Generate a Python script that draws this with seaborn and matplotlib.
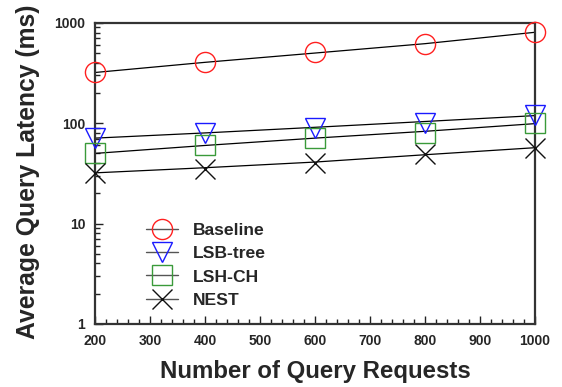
import numpy as np
import pandas as pd
import matplotlib
matplotlib.use('Agg')
import matplotlib.pyplot as plt
from matplotlib.lines import Line2D
from matplotlib.ticker import LogLocator, NullFormatter, MultipleLocator
import seaborn as sns

# measured points
requests = [200, 400, 600, 800, 1000]
baseline = [325, 409, 515, 618, 815]
lsb_tree = [72, 79, 90, 101, 121]
lsh_ch = [50, 60, 71, 80, 101]
nest = [32, 35, 40, 49, 57]

# fitted trend lines (black)
baseline_fit = [320, 404, 500, 620, 805]
lsb_tree_fit = [71, 80, 91, 104, 119]
lsh_ch_fit = [50, 60, 71, 83, 99]
nest_fit = [32, 36, 41, 48.5, 57]

names = ['Baseline', 'LSB-tree', 'LSH-CH', 'NEST']
points = [baseline, lsb_tree, lsh_ch, nest]
fits = [baseline_fit, lsb_tree_fit, lsh_ch_fit, nest_fit]
colors = ['#ff2020', '#1a1aff', '#3a9a3a', '#111111']
markers = ['o', 'v', 's', 'x']

sns.set_style('white')
plt.rcParams['font.family'] = ['Liberation Sans', 'DejaVu Sans']
plt.rcParams['font.weight'] = 'bold'

fig = plt.figure(figsize=(5.62, 3.87), dpi=100)
ax = fig.add_axes([0.169, 0.163, 0.783, 0.778])

for name, pts, fit, c, m in zip(names, points, fits, colors, markers):
    df = pd.DataFrame({'x': requests, 'fit': fit, 'y': pts})
    sns.lineplot(data=df, x='x', y='fit', ax=ax, color='black', lw=0.9,
                 legend=False)
    sns.lineplot(data=df, x='x', y='y', ax=ax, linestyle='', marker=m,
                 markersize=14.5, mfc='none', mec=c, mew=1.0, color=c,
                 legend=False, clip_on=False, zorder=5)

ax.set_yscale('log')
ax.set_xlim(200, 1000)
ax.set_ylim(1, 1000)
ax.xaxis.set_major_locator(MultipleLocator(100))
ax.xaxis.set_minor_locator(MultipleLocator(20))
ax.yaxis.set_minor_locator(LogLocator(base=10, subs=np.arange(2, 10), numticks=10))
ax.yaxis.set_minor_formatter(NullFormatter())
ax.set_yticks([1, 10, 100, 1000])
ax.set_yticklabels(['1', '10', '100', '1000'])

ax.tick_params(which='both', direction='in', top=False, right=False,
               left=True, bottom=True, color='#222222', width=1.0)
ax.tick_params(which='major', length=6, labelsize=10, pad=7)
ax.tick_params(which='minor', length=3.5)
for lab in ax.get_xticklabels() + ax.get_yticklabels():
    lab.set_fontweight('bold')

for sp in ax.spines.values():
    sp.set_linewidth(1.6)
    sp.set_color('#333333')

ax.set_xlabel('Number of Query Requests', fontsize=17.3, fontweight='bold')
ax.set_ylabel('Average Query Latency (ms)', fontsize=17.8, fontweight='bold')
ax.xaxis.set_label_coords(0.5, -0.12)
ax.yaxis.set_label_coords(-0.125, 0.505)

handles = [Line2D([], [], color='#555555', lw=1.0, marker=m, markersize=14.5,
                  mfc='none', mec=c, mew=1.0) for c, m in zip(colors, markers)]
ax.legend(handles, names, loc='upper left', bbox_to_anchor=(0.116, 0.335),
          frameon=False, handlelength=1.83, handletextpad=0.85,
          labelspacing=0.45, borderaxespad=0, borderpad=0,
          prop={'weight': 'bold', 'size': 12.6})

ax.set_facecolor('white')
fig.savefig('out.png', dpi=100, facecolor='white')
